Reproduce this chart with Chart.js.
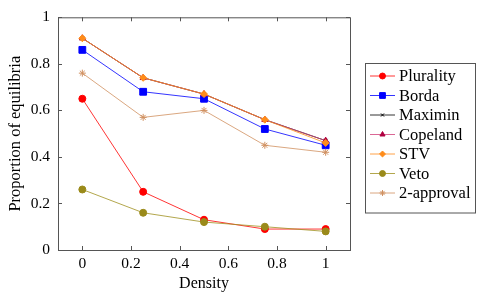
<!DOCTYPE html>
<html>
<head>
<meta charset="utf-8">
<script src="https://cdn.jsdelivr.net/npm/chart.js@4"></script>
<style>
  html, body { margin: 0; padding: 0; background: #fff; }
  #wrap { width: 486px; height: 293px; }
</style>
</head>
<body>
<div id="wrap"><canvas id="chart" width="486" height="293"></canvas></div>
<script>
const density = [0, 0.25, 0.5, 0.75, 1];
const plurality = [0.65, 0.25, 0.13, 0.09, 0.09];
const borda = [0.86, 0.68, 0.65, 0.52, 0.45];
const maximin = [0.91, 0.74, 0.67, 0.56, 0.47];
const copeland = [0.91, 0.74, 0.67, 0.56, 0.47];
const stv = [0.91, 0.74, 0.67, 0.56, 0.46];
const veto = [0.26, 0.16, 0.12, 0.10, 0.08];
const twoApproval = [0.76, 0.57, 0.60, 0.45, 0.42];
const xTicks = [0, 0.2, 0.4, 0.6, 0.8, 1];
const yTicks = [0, 0.2, 0.4, 0.6, 0.8, 1];

const FONT = "'Liberation Serif', 'DejaVu Serif', serif";

function pts(ys) {
  return ys.map((y, i) => ({ x: density[i], y: y }));
}

let n = 0;
function series(label, ys, color, style, radius, fill) {
  n++;
  return {
    label: label,
    data: pts(ys),
    order: -n, // later series on top, as in pgfplots
    borderColor: color,
    backgroundColor: fill || color,
    pointBorderColor: fill || color,
    pointBackgroundColor: fill || color,
    borderWidth: 0.8,
    pointStyle: style,
    pointRadius: radius,
    pointBorderWidth: 1,
    tension: 0
  };
}

const datasets = [
  series('Plurality', plurality, '#ff0000', 'circle', 3.5),
  series('Borda', borda, '#0000ff', 'rect', 4.8),
  series('Maximin', maximin, '#000000', 'crossRot', 2.5),
  series('Copeland', copeland, '#d0407a', 'triangle', 3.5, '#b00040'),
  series('STV', stv, '#ff8c1a', 'rectRot', 3.5),
  series('Veto', veto, '#a09020', 'circle', 3.5, '#9a8a1a'),
  series('2-approval', twoApproval, '#d09060', 'star', 3.5)
];

// box, inward ticks and legend drawn like pgfplots
const framePlugin = {
  id: 'frame',
  afterDraw(chart) {
    const ctx = chart.ctx;
    const a = chart.chartArea;
    const xs = chart.scales.x, ys = chart.scales.y;
    ctx.save();
    ctx.strokeStyle = '#555';
    ctx.lineWidth = 1;
    ctx.strokeRect(a.left + 0.5, a.top + 0.5, a.right - a.left, a.bottom - a.top);
    ctx.beginPath();
    xTicks.forEach(v => {
      const px = Math.round(xs.getPixelForValue(v)) + 0.5;
      ctx.moveTo(px, a.bottom); ctx.lineTo(px, a.bottom - 4);
      ctx.moveTo(px, a.top); ctx.lineTo(px, a.top + 4);
    });
    yTicks.forEach(v => {
      const py = Math.round(ys.getPixelForValue(v)) + 0.5;
      ctx.moveTo(a.left, py); ctx.lineTo(a.left + 4, py);
      ctx.moveTo(a.right, py); ctx.lineTo(a.right - 4, py);
    });
    ctx.stroke();

    // legend
    const lx = 365, ly = 63, lw = 110, rowH = 19.5;
    ctx.fillStyle = '#fff';
    ctx.fillRect(lx, ly, lw, rowH * datasets.length + 13);
    ctx.strokeRect(lx + 0.5, ly + 0.5, lw, rowH * datasets.length + 13);
    ctx.font = '16.5px ' + FONT;
    ctx.textBaseline = 'middle';
    datasets.forEach((ds, i) => {
      const y = ly + 13 + i * rowH;
      ctx.strokeStyle = ds.borderColor;
      ctx.lineWidth = 0.8;
      ctx.beginPath();
      ctx.moveTo(lx + 5, y); ctx.lineTo(lx + 30, y);
      ctx.stroke();
      ctx.fillStyle = ds.pointBackgroundColor;
      ctx.strokeStyle = ds.pointBorderColor;
      ctx.lineWidth = 1;
      Chart.helpers.drawPoint(ctx, {
        pointStyle: ds.pointStyle, radius: ds.pointRadius * 0.85, borderWidth: 1, rotation: 0
      }, lx + 17.5, y);
      ctx.fillStyle = '#000';
      ctx.fillText(ds.label, lx + 34, y + 1);
    });
    ctx.restore();
  }
};

new Chart(document.getElementById('chart').getContext('2d'), {
  type: 'line',
  data: { datasets: datasets },
  options: {
    responsive: false,
    animation: false,
    layout: { padding: { top: 8, right: 136, left: 6, bottom: 0 } },
    plugins: {
      legend: { display: false },
      tooltip: { enabled: false }
    },
    scales: {
      x: {
        type: 'linear',
        min: -0.1,
        max: 1.1,
        afterBuildTicks: s => { s.ticks = xTicks.map(v => ({ value: v })); },
        afterFit: s => { s.height = 43; },
        grid: { display: false, drawTicks: false },
        border: { display: false },
        ticks: {
          color: '#000',
          font: { family: FONT, size: 15.5 },
          padding: 5,
          maxRotation: 0,
          callback: v => String(v)
        },
        title: {
          display: true,
          text: 'Density',
          color: '#000',
          font: { family: FONT, size: 16 },
          padding: { top: 0, bottom: 0 }
        }
      },
      y: {
        type: 'linear',
        min: 0,
        max: 1,
        afterBuildTicks: s => { s.ticks = yTicks.map(v => ({ value: v })); },
        afterFit: s => { s.width = 52; },
        grid: { display: false, drawTicks: false },
        border: { display: false },
        ticks: {
          color: '#000',
          font: { family: FONT, size: 15.5 },
          padding: 8,
          callback: v => String(v)
        },
        title: {
          display: true,
          text: 'Proportion of equilibria',
          color: '#000',
          font: { family: FONT, size: 16.5 },
          padding: { top: 0, bottom: 2 }
        }
      }
    }
  },
  plugins: [framePlugin]
});
</script>
</body>
</html>
